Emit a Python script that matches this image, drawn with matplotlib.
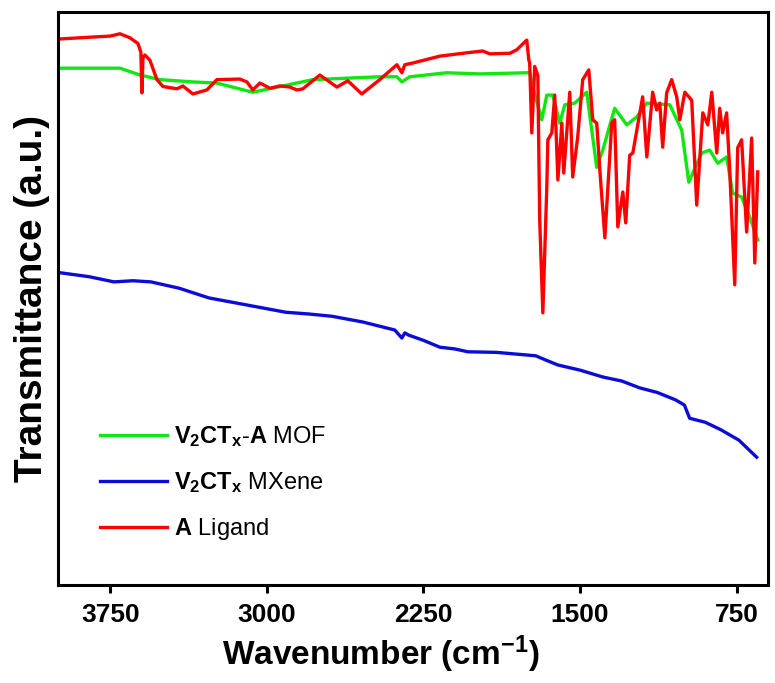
"""FTIR spectra of the ligand, the V2CTx MXene and the V2CTx-A MOF."""
import matplotlib
matplotlib.use("Agg")
import matplotlib.pyplot as plt
import numpy as np

plt.rcParams["font.family"] = ["Liberation Sans", "DejaVu Sans"]
plt.rcParams["mathtext.fontset"] = "custom"
plt.rcParams["mathtext.rm"] = "Liberation Sans"
plt.rcParams["mathtext.bf"] = "Liberation Sans:bold"
plt.rcParams["mathtext.it"] = "Liberation Sans:italic"

# wavenumber (cm-1) / transmittance (a.u.)
mof_wn = [3990, 3703, 3607, 3512, 3354, 3239, 3143, 3067, 2923, 2779, 2459, 2377,
          2353, 2315, 2138, 1980, 1755, 1741, 1726, 1683, 1659, 1630, 1597, 1573,
          1525, 1468, 1420, 1391, 1334, 1276, 1228, 1180, 1070, 1013, 979, 917,
          879, 840, 798, 769, 726, 687, 649]
mof_t = [90.2, 90.2, 89.0, 88.2, 87.8, 87.6, 86.7, 86.0, 87.1, 88.2, 88.7, 88.7,
         87.8, 88.7, 89.4, 89.2, 89.4, 89.5, 86.9, 81.2, 85.5, 85.5, 80.6, 83.8,
         84.1, 86.0, 72.9, 75.9, 83.2, 80.3, 81.7, 84.1, 83.8, 79.4, 70.3, 75.4,
         75.9, 73.6, 74.7, 68.4, 67.7, 64.2, 60.2]

mxene_wn = [3990, 3850, 3732, 3640, 3555, 3420, 3277, 3100, 2909, 2800, 2688, 2540,
            2387, 2353, 2339, 2320, 2250, 2171, 2100, 2037, 1900, 1712, 1660, 1606,
            1500, 1391, 1300, 1214, 1130, 1042, 1000, 975, 900, 826, 740, 654]
mxene_t = [54.5, 53.8, 52.9, 53.1, 52.9, 51.8, 50.1, 48.9, 47.6, 47.3, 46.9, 45.9,
           44.5, 43.1, 44.0, 43.6, 42.7, 41.5, 41.2, 40.7, 40.6, 40.0, 39.2, 38.4,
           37.5, 36.3, 35.6, 34.4, 33.6, 32.3, 31.4, 29.1, 28.4, 27.1, 25.3, 22.3]

lig_wn = [3990, 3850, 3750, 3703, 3655, 3617, 3603, 3598, 3593, 3584, 3560, 3526,
          3497, 3430, 3402, 3354, 3287, 3239, 3129, 3095, 3067, 3033, 2985, 2937,
          2889, 2856, 2827, 2746, 2664, 2612, 2545, 2459, 2377, 2353, 2339, 2301,
          2171, 2061, 1966, 1932, 1836, 1803, 1755, 1745, 1741, 1731, 1717, 1702,
          1693, 1678, 1659, 1654, 1635, 1621, 1606, 1587, 1578, 1549, 1535, 1511,
          1487, 1458, 1439, 1420, 1405, 1381, 1348, 1334, 1319, 1295, 1281, 1262,
          1247, 1200, 1180, 1152, 1133, 1118, 1104, 1085, 1061, 1037, 1022, 998,
          965, 941, 912, 888, 869, 845, 831, 817, 798, 783, 759, 745, 726, 702,
          678, 663, 649]
lig_t = [95.3, 95.6, 95.8, 96.2, 95.5, 94.5, 93.0, 85.9, 92.0, 92.5, 91.6, 88.2,
         87.0, 86.6, 87.1, 85.7, 86.4, 88.2, 88.3, 87.8, 86.4, 87.6, 86.7, 87.1,
         86.9, 86.4, 86.6, 89.0, 86.9, 88.0, 85.7, 88.2, 90.8, 89.4, 90.8, 91.1,
         92.3, 92.8, 93.2, 92.7, 92.8, 93.4, 95.1, 91.6, 91.1, 78.9, 90.5, 88.9,
         63.7, 47.5, 69.5, 77.7, 78.9, 85.5, 70.7, 80.6, 71.9, 86.0, 71.2, 78.2,
         88.2, 89.9, 81.2, 80.6, 72.4, 60.6, 80.6, 81.2, 62.5, 68.6, 63.2, 75.0,
         75.4, 85.2, 74.7, 86.0, 82.9, 84.1, 76.4, 85.9, 88.2, 85.2, 81.2, 86.0,
         84.6, 66.3, 82.4, 80.3, 86.0, 75.4, 83.2, 78.9, 82.4, 72.4, 52.4, 76.3,
         77.7, 61.6, 78.0, 56.2, 72.1]

fig = plt.figure(figsize=(7.75, 6.83), dpi=100)
ax = fig.add_axes([0.0748, 0.1435, 0.9161, 0.8389])

lw = 2.4
ax.plot(mof_wn, mof_t, color="#12e612", lw=lw,
        label=r"$\mathbf{V_2CT_x}$-$\mathbf{A}$ MOF")
ax.plot(mxene_wn, mxene_t, color="#0c0cd8", lw=lw,
        label=r"$\mathbf{V_2CT_x}$ MXene")
ax.plot(lig_wn, lig_t, color="#ff0000", lw=lw,
        label=r"$\mathbf{A}$ Ligand")

ax.set_xlim(4000, 600)
ax.set_ylim(0, 100)
ax.set_xticks([3750, 3000, 2250, 1500, 750])
ax.set_yticks([])
ax.tick_params(axis="x", direction="out", length=6, width=2.2, pad=7,
               labelsize=19)
for lab in ax.get_xticklabels():
    lab.set_fontweight("bold")
for sp in ax.spines.values():
    sp.set_linewidth(2.2)

ax.set_xlabel(r"Wavenumber (cm$^{\mathbf{-1}}$)", fontsize=24, fontweight="bold")
ax.xaxis.set_label_coords(0.455, -0.085)
ax.set_ylabel("Transmittance (a.u.)", fontsize=28, fontweight="bold", labelpad=6)

ax.legend(loc="upper left", bbox_to_anchor=(0.059, 0.281), frameon=False,
          fontsize=17, handlelength=2.85, handletextpad=0.3, labelspacing=0.9,
          borderpad=0, borderaxespad=0)

fig.savefig("out.png", dpi=100)
